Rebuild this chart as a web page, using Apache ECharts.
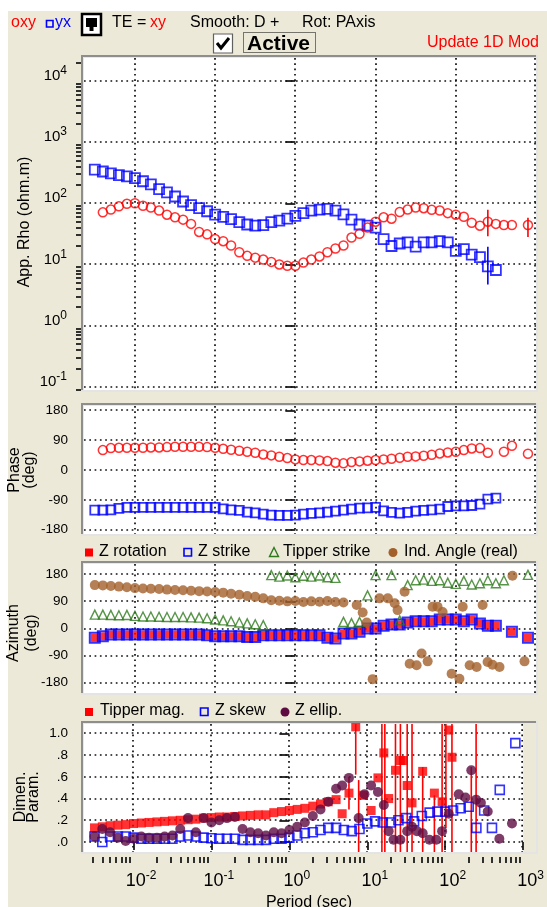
<!DOCTYPE html>
<html><head><meta charset="utf-8">
<script src="https://cdn.jsdelivr.net/npm/echarts@6.0.0/dist/echarts.min.js"></script>
<style>html,body{margin:0;padding:0;background:#fff;}#chart{width:547px;height:907px;}</style>
</head><body><div id="chart"></div>
<script>
// ---------------- DATA ----------------
const PERIODS = [0.00316,0.00398,0.00501,0.00631,0.00794,0.01,0.0126,0.0158,0.02,0.0251,
  0.0316,0.0398,0.0501,0.0631,0.0794,0.1,0.126,0.158,0.2,0.251,
  0.316,0.398,0.501,0.631,0.794,1,1.26,1.58,2,2.51,
  3.16,3.98,5.01,6.31,7.94,10,12.6,15.8,20,25.1,
  31.6,39.8,50.1,63.1,79.4,100,126,158,200,251,
  316,398,501,631,794];

const rhoXY = [null,71,79,89,98,100,91,85,76,65, 59,54,46,34,31,26,24,20.4,15.8,13.8,
  12.9,12,11,10,9.5,9.5,10.7,12,13.5,15.8, 18.2,20.4,27.5,31.6,40,50,59,56,72,79,
  85,83,78,76,69,65,60,48,43,50, 46,44,44,null,44];
const rhoYX = [355,331,309,288,275,257,229,204,170,151, 129,107,93,83,74,65,60,55,49,45,
  43,44,49,52,56,62,69,76,79,81, 76,66,54,45,43,40,26,20,22,23,
  19.5,23,23,24,23,16.6,17.8,14.5,13.2,9.3, 8.1,null,null,null,null];
const rhoXYErrPeriods = [251,794], rhoXYErrLow = [29,28], rhoXYErrHigh = [78,58];
const rhoYXErrPeriods = [251], rhoYXErrLow = [4.7], rhoYXErrHigh = [19.5];

const phaseXY = [null,60,66,67,67,67,67,68,68,69, 70,70,70,70,69,67,64,61,58,55,
  52,47,44,40,36,32,30,30,29,27, 22,20,24,26,28,30,32,34,37,40,
  41,43,46,50,53,55,60,65,66,52, null,55,73,null,49];
const phaseYX = [-121,-121,-120,-116,-113,-113,-113,-113,-113,-113, -113,-113,-113,-113,-113,-113,-117,-120,-122,-127,
  -129,-133,-136,-137,-137,-136,-133,-131,-129,-127, -124,-121,-118,-115,-114,-113,-123,-128,-130,-128,
  -124,-122,-120,-118,-110,-108,-108,-107,-103,-88, -85,null,null,null,null];

const zRotation = [-31,-26,-20,-20,-20,-20,-20,-20,-20,-20, -20,-20,-20,-20,-22,-26,-26,-26,-26,-28,
  -28,-22,-22,-22,-22,-22,-22,-22,-22,-31, -33,-17,-17,-11,0,0,9,13,13,20,
  24,24,24,30,30,30,24,30,17,9, 9,null,-11,null,-31];
const zStrike = [-31,-26,-20,-20,-20,-20,-20,-20,-20,-20, -20,-20,-20,-20,-22,-26,-26,-26,-26,-28,
  -28,-22,-22,-22,-22,-22,-22,-22,-22,-31, -33,-17,-17,-11,0,0,9,13,13,20,
  24,24,24,30,30,30,24,30,17,9, 9,null,-11,null,-31];
const tipperStrike = [46,46,45,44,45,42,40,40,39,38, 38,38,37,36,34,30,27,24,20,17,
  14,11,177,172,176,170,175,172,176,170, 168,22,18,22,110,177,null,177,27,144,
  160,162,158,160,152,148,158,146,150,160, 150,160,null,null,178];
const indAngle = [144,143,141,139,137,134,133,132,131,129, 128,127,125,124,123,121,119,115,112,108,
  105,100,94,92,90,91,88,90,89,91, 88,86,null,null,null,null,null,null,null,null,
  null,null,null,null,null,null,null,null,null,null, null,null,null,null,null];
const indAngleTailPeriods = [5.82,6.9,7.75,9.2,11.2,14.2,17.3,18.8,23,26.6,32.5,37.5,44.6,51.4,59.3,68.5,88.7,111,122,149,182,216,249,287,351,509,719];
const indAngleTailValues = [78,53,20,-168,100,100,84,61,122,-117,-122,-83,-109,72,72,55,-150,-167,72,-122,-128,78,-111,-120,-128,175,-109];

const tipperMag = [0.13,0.14,0.15,0.155,0.16,0.17,0.175,0.18,0.185,0.19, 0.195,0.2,0.205,0.21,0.22,0.225,0.23,0.23,0.235,0.24,
  0.245,0.25,0.25,0.27,0.28,0.29,0.3,0.31,0.33,0.35, 0.37,0.39,null,null,null,null,null,null,null,null,
  null,null,null,null,null,null,null,null,null,null, null,null,null,null,null];
const tipperMagTailPeriods = [4.76,5.82,7.11,8.94,11.2,13.7,16.3,18.8,23,26.6,29,32.5,37.5,51.4,72.6,91.2,111,122];
const tipperMagTailValues = [0.26,0.45,1.06,0.43,0.29,0.59,0.82,0.40,0.66,0.75,0.75,0.52,0.36,0.65,0.45,0.37,1.03,0.78];
const tipperErrPeriods = [5.82,7.11,7.75,15.4,16.8,23,26.6,32.5,37.5,51.4,72.6,91.2,102,122,216,249];
const tipperErrLow  = [0.30,0.62,-0.2,-0.2,-0.2,-0.2,-0.2,-0.2,-0.2,-0.2,-0.2,-0.2,0.13,-0.2,-0.2,-0.2];
const tipperErrHigh = [0.60,1.2,0.57,1.2,1.2,1.2,1.2,1.2,1.2,0.69,0.43,1.2,1.2,1.2,0.69,1.2];

const zSkew = [0.05,0.0,0.05,0.05,0.05,0.04,0.03,0.03,0.03,0.03, 0.03,0.05,0.06,0.05,0.04,0.035,0.03,0.03,0.03,0.02,
  0.02,0.02,0.02,0.03,0.03,0.04,0.06,0.08,0.09,0.11, 0.13,0.13,0.11,0.10,0.12,0.17,0.19,0.18,0.18,0.20,
  0.22,0.19,0.24,0.27,0.28,0.28,0.29,0.31,0.325,0.13, 0.29,0.13,0.48,null,0.91];
const zEllip = [0.05,0.12,0.09,0.04,0.01,0.03,0.05,0.04,0.04,0.05, 0.06,0.12,0.22,0.09,0.22,0.18,0.20,0.22,0.23,0.12,
  0.09,0.08,0.06,0.09,0.08,0.11,0.14,0.18,0.24,0.30, 0.37,0.49,null,null,null,null,null,null,null,null,
  null,null,null,null,null,null,null,null,null,null, null,null,null,null,null];
const zEllipTailPeriods = [4.76,5.82,7.75,9.2,11.2,13.7,16.3,18.8,21.7,26.6,32.5,37.5,43.3,51.4,62.8,76.8,91.2,111,149,182,216,249,287,351,495,719];
const zEllipTailValues = [0.52,0.59,0.22,0.44,0.52,0.46,0.34,0.10,0.02,0.02,0.10,0.14,0.10,0.08,0.02,0.02,0.10,0.26,0.44,0.41,0.66,0.39,0.36,0.28,0.03,0.17];

// tick labels
const PERIOD_DECADES = [-2,-1,0,1,2,3];
const RHO_DECADES = [-1,0,1,2,3,4];
const ANGLE_TICKS = [-180,-90,0,90,180];
const DIMEN_TICKS = [0,0.2,0.4,0.6,0.8,1.0];

// ---------------- LAYOUT ----------------
const FONT = '"Liberation Sans", Arial, sans-serif';
const XMIN = -2.635, XMAX = 3.0;
const G = [
  {left:84, top:58,  width:452, height:332, ymin:-1.054, ymax:4.376},
  {left:84, top:406, width:452, height:128, ymin:-193, ymax:193},
  {left:84, top:564, width:452, height:129, ymin:-214, ymax:214},
  {left:84, top:724, width:452, height:128, ymin:-0.092, ymax:1.086}
];
const RED='#ff0000', BLUE='#0000ff', GREEN='#2d7a1c', BROWN='#a3602a', PURPLE='#5e0b42';

function minorLog(lo, hi){ const out=[]; for(let d=Math.floor(lo)-1; d<=Math.ceil(hi); d++){ for(let m=2;m<=9;m++){ const v=d+Math.log10(m); if(v>lo && v<hi) out.push(v);} } return out; }

function pts(periods, values, ylog){
  const out=[];
  for(let i=0;i<periods.length;i++){ const v=values[i]; if(v==null) continue; out.push([Math.log10(periods[i]), ylog?Math.log10(v):v]); }
  return out;
}
function scatter(gi, data, sym, size, style, z){
  return {type:'scatter', xAxisIndex:gi, yAxisIndex:gi, data, symbol:sym, symbolSize:size, itemStyle:style, z:z||3, silent:true, clip:true};
}
function openStyle(c, w){ return {color:'rgba(0,0,0,0)', borderColor:c, borderWidth:w}; }
function errSeries(gi, periods, lows, highs, color, ylog){
  return {type:'custom', xAxisIndex:gi, yAxisIndex:gi, silent:true, z:2,
    data: periods.map((p,i)=>[Math.log10(p), ylog?Math.log10(lows[i]):lows[i], ylog?Math.log10(highs[i]):highs[i]]),
    encode:{x:0, y:[1,2]},
    renderItem:(params, api)=>{
      const cs=params.coordSys;
      const a=api.coord([api.value(0), api.value(1)]);
      const b=api.coord([api.value(0), api.value(2)]);
      const cl=y=>Math.max(cs.y, Math.min(cs.y+cs.height, y));
      return {type:'line', shape:{x1:a[0], y1:cl(a[1]), x2:a[0], y2:cl(b[1])}, style:{stroke:color, lineWidth:1.6}};
    }};
}
function gridLines(gi, xs, ys){
  const g=G[gi]; const ymid=(g.ymin+g.ymax)/2, xmid=(XMIN+XMAX)/2;
  const data = xs.map(v=>[v, ymid, 0]).concat(ys.map(v=>[xmid, v, 1]));
  return {type:'custom', xAxisIndex:gi, yAxisIndex:gi, silent:true, z:1, data, encode:{x:0,y:1},
    renderItem:(params, api)=>{
      const cs=params.coordSys; const p=api.coord([api.value(0), api.value(1)]);
      let shape;
      if(api.value(2)===0){ const x=Math.min(Math.round(p[0]), cs.x+cs.width-1); shape={x1:x, y1:cs.y, x2:x, y2:cs.y+cs.height}; }
      else { const y=Math.round(p[1]); shape={x1:cs.x, y1:y, x2:cs.x+cs.width, y2:y}; }
      return {type:'line', shape, style:{stroke:'#111', lineWidth:1.7, lineDash:[1.7,3.6]}};
    }};
}

// ---------------- AXES ----------------
const xAxis=[];
for(let i=0;i<4;i++){
  xAxis.push({type:'value', gridIndex:i, min:XMIN, max:XMAX, show:i===3, position:'bottom', offset:5,
    axisLine:{show:false}, splitLine:{show:false},
    axisTick:{show:true, customValues:PERIOD_DECADES, length:8, lineStyle:{color:'#000', width:1.6}},
    axisLabel:{show:true, customValues:PERIOD_DECADES, margin:14, padding:[0,0,0,15],
      formatter:v=>'{b|10}{s|'+Math.round(v)+'}',
      rich:{b:{fontSize:18, lineHeight:20, fontFamily:FONT, color:'#000'}, s:{fontSize:12, lineHeight:20, padding:[0,0,11,0], fontFamily:FONT, color:'#000'}}}
  });
}
xAxis.push({type:'value', gridIndex:3, min:XMIN, max:XMAX, position:'bottom', offset:5,
  axisLine:{show:false}, splitLine:{show:false}, axisLabel:{show:false},
  axisTick:{show:true, customValues:minorLog(XMIN,XMAX), length:6, lineStyle:{color:'#000', width:1.6}}});

function yAx(gi, ticks, fmt, rich, extra){
  return Object.assign({type:'value', gridIndex:gi, min:G[gi].ymin, max:G[gi].ymax, position:'left', offset:3,
    axisLine:{show:false}, splitLine:{show:false},
    axisTick:{show:true, customValues:ticks, length:10, lineStyle:{color:'#000', width:1.6}},
    axisLabel:Object.assign({show:true, customValues:ticks, margin:13, formatter:fmt, fontFamily:FONT, fontSize:13.5, color:'#000'}, rich||{})
  }, extra||{});
}
const yAxis=[
  yAx(0, RHO_DECADES, v=>'{b|10}{s|'+Math.round(v)+'}', {margin:14, padding:[0,0,10,0],
    rich:{b:{fontSize:15, lineHeight:18, fontFamily:FONT, color:'#000'}, s:{fontSize:12, lineHeight:18, padding:[0,0,10,0], fontFamily:FONT, color:'#000'}}}),
  yAx(1, ANGLE_TICKS, v=>String(Math.round(v))),
  yAx(2, ANGLE_TICKS, v=>String(Math.round(v))),
  yAx(3, DIMEN_TICKS, v=> v>=0.999 ? '1.0' : '.'+Math.round(v*10)),
  {type:'value', gridIndex:0, min:G[0].ymin, max:G[0].ymax, position:'left', offset:3,
    axisLine:{show:false}, splitLine:{show:false}, axisLabel:{show:false},
    axisTick:{show:true, customValues:minorLog(G[0].ymin, G[0].ymax), length:5, lineStyle:{color:'#000', width:1.6}}}
];

// ---------------- SERIES ----------------
const series=[
  gridLines(0, PERIOD_DECADES, RHO_DECADES),
  gridLines(1, PERIOD_DECADES, ANGLE_TICKS),
  gridLines(2, PERIOD_DECADES, ANGLE_TICKS),
  gridLines(3, PERIOD_DECADES, DIMEN_TICKS),
  // rho
  errSeries(0, rhoXYErrPeriods, rhoXYErrLow, rhoXYErrHigh, RED, true),
  errSeries(0, rhoYXErrPeriods, rhoYXErrLow, rhoYXErrHigh, BLUE, true),
  scatter(0, pts(PERIODS, rhoYX, true), 'rect', 10, openStyle(BLUE,1.8)),
  scatter(0, pts(PERIODS, rhoXY, true), 'circle', 9, openStyle(RED,1.5)),
  // phase
  scatter(1, pts(PERIODS, phaseYX), 'rect', 9, openStyle(BLUE,1.8)),
  scatter(1, pts(PERIODS, phaseXY), 'circle', 9, openStyle(RED,1.5)),
  // azimuth
  scatter(2, pts(PERIODS, zRotation), 'rect', 8, {color:RED}),
  scatter(2, pts(PERIODS, zStrike), 'rect', 10, openStyle(BLUE,2)),
  scatter(2, pts(PERIODS, tipperStrike), 'triangle', 9, openStyle(GREEN,1.4)),
  scatter(2, pts(PERIODS, indAngle).concat(pts(indAngleTailPeriods, indAngleTailValues)), 'circle', 10, {color:BROWN}),
  // dimensionality
  errSeries(3, tipperErrPeriods, tipperErrLow, tipperErrHigh, RED, false),
  scatter(3, pts(PERIODS, tipperMag).concat(pts(tipperMagTailPeriods, tipperMagTailValues)), 'rect', 9, {color:RED}),
  scatter(3, pts(PERIODS, zSkew), 'rect', 9, openStyle(BLUE,1.6)),
  scatter(3, pts(PERIODS, zEllip).concat(pts(zEllipTailPeriods, zEllipTailValues)), 'circle', 10, {color:PURPLE})
];

// ---------------- GRAPHICS ----------------
function txt(x,y,text,opt){
  opt=opt||{};
  return {type:'text', x, y, rotation:opt.rot||0, z:50, silent:true,
    style:{text, x:0, y:0, font:(opt.bold?'bold ':'')+(opt.size||16)+'px '+FONT, fill:opt.color||'#000',
      textAlign:opt.align||'left', align:opt.align||'left', textVerticalAlign:'middle', verticalAlign:'middle'}};
}
function rect(x,y,w,h,style){ return {type:'rect', shape:{x,y,width:w,height:h}, style, z:40, silent:true}; }
function frame(g){
  const l=g.left,t=g.top,w=g.width,h=g.height;
  return [
    rect(l-3,t-3,w+5,2,{fill:'#8e8e8e'}),
    rect(l-3,t-3,2,h+5,{fill:'#8e8e8e'}),
    rect(l-3,t+h,w+5,2,{fill:'#e4e4e4'}),
    rect(l+w,t-3,2,h+5,{fill:'#e4e4e4'})
  ];
}
const graphic=[
  rect(0,0,547,11,{fill:'#fff'}),
  rect(0,0,8,907,{fill:'#fff'}),
  // header
  txt(11,23,'oxy',{color:RED}),
  rect(46.5,20.5,6.5,6.5,{fill:'none', stroke:BLUE, lineWidth:1.6}),
  txt(55,23,'yx',{color:BLUE}),
  rect(82,14,19,21,{fill:'#fff', stroke:'#000', lineWidth:2.5}),
  rect(86,18,11,9,{fill:'#000'}),
  rect(89.5,27,4,4,{fill:'#000'}),
  txt(112,23,'TE = ',{}),
  txt(150,23,'xy',{color:RED}),
  txt(190,23,'Smooth: D +',{}),
  txt(302,23,'Rot: PAxis',{}),
  rect(213.5,34,19,19,{fill:'#fff', stroke:'#606060', lineWidth:1.2}),
  {type:'polyline', shape:{points:[[217,43],[221,48],[229,38]]}, style:{stroke:'#000', lineWidth:3, fill:'none'}, z:45, silent:true},
  rect(243.5,32.5,72,20,{fill:'none', stroke:'#000', lineWidth:1, lineDash:[1,1]}),
  txt(247,44,'Active',{bold:true, size:21}),
  txt(539,43,'Update 1D Mod',{color:RED, align:'right'}),
  // axis titles
  txt(25,222,'App. Rho (ohm.m)',{rot:Math.PI/2, align:'center'}),
  txt(15,470,'Phase',{rot:Math.PI/2, align:'center'}),
  txt(30,470,'(deg)',{rot:Math.PI/2, align:'center'}),
  txt(14,633,'Azimuth',{rot:Math.PI/2, align:'center'}),
  txt(32,633,'(deg)',{rot:Math.PI/2, align:'center'}),
  txt(21,797,'Dimen.',{rot:Math.PI/2, align:'center'}),
  txt(34,797,'Param.',{rot:Math.PI/2, align:'center'}),
  txt(309,903,'Period (sec)',{align:'center'}),
  // legend azimuth
  rect(85,548.5,8,8,{fill:RED}),
  txt(99,552,'Z rotation',{}),
  rect(184,548.5,7.5,7.5,{fill:'none', stroke:BLUE, lineWidth:1.6}),
  txt(198,552,'Z strike',{}),
  {type:'polygon', shape:{points:[[274,547.5],[278.5,556.5],[269.5,556.5]]}, style:{fill:'none', stroke:GREEN, lineWidth:1.4}, z:45, silent:true},
  txt(283,552,'Tipper strike',{}),
  {type:'circle', shape:{cx:393,cy:552.5,r:4.5}, style:{fill:BROWN}, z:45, silent:true},
  txt(404,552,'Ind. Angle (real)',{}),
  // legend dimen
  rect(85,708,8,8,{fill:RED}),
  txt(100,711,'Tipper mag.',{}),
  rect(200.5,708,7.5,7.5,{fill:'none', stroke:BLUE, lineWidth:1.6}),
  txt(215,711,'Z skew',{}),
  {type:'circle', shape:{cx:285,cy:712,r:4.5}, style:{fill:PURPLE}, z:45, silent:true},
  txt(295,711,'Z ellip.',{})
].concat(frame(G[0]), frame(G[1]), frame(G[2]), frame(G[3]));

const chart = echarts.init(document.getElementById('chart'), null, {renderer:'canvas'});
chart.setOption({
  animation:false,
  backgroundColor:'#ECE9D8',
  textStyle:{fontFamily:FONT},
  grid: G.map(g=>({left:g.left, top:g.top, width:g.width, height:g.height, show:true, backgroundColor:'#fff', borderWidth:0, containLabel:false})),
  xAxis, yAxis, series, graphic
});
</script></body></html>
